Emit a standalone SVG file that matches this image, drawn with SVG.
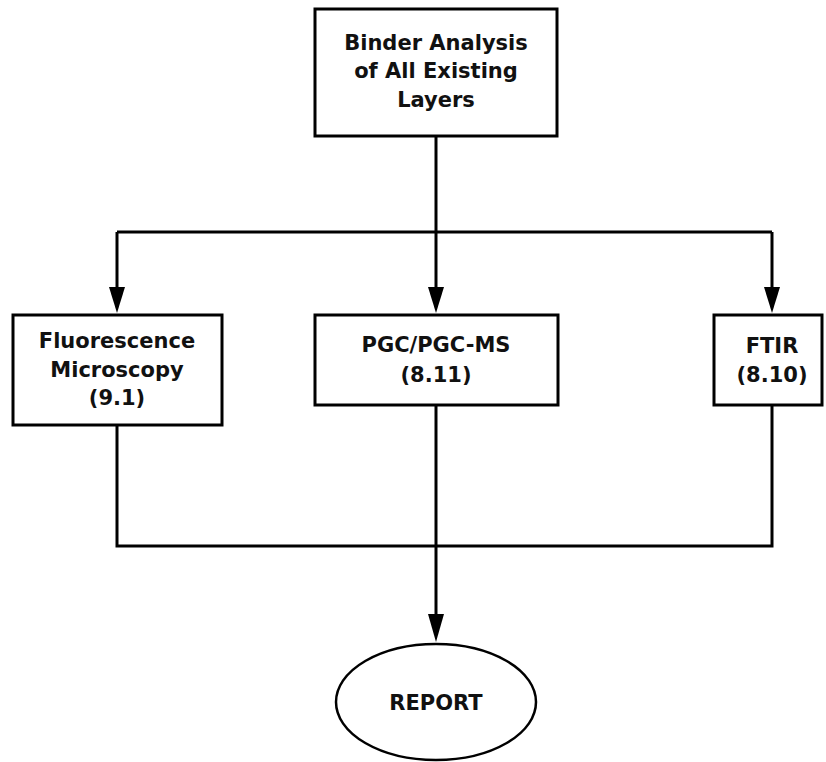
<svg xmlns="http://www.w3.org/2000/svg" width="826" height="762" viewBox="0 0 826 762">
<style>
.box{fill:#fff;stroke:#000;stroke-width:3}
.ln{fill:none;stroke:#000;stroke-width:3}
.t{font-family:"DejaVu Sans","Liberation Sans",sans-serif;font-weight:bold;font-size:21px;text-anchor:middle;fill:#111}
</style>
<g id="connectors">
<path class="ln" d="M436,136 V232"/>
<path class="ln" d="M117,232 H772"/>
<path class="ln" d="M117,232 V288"/>
<path class="ln" d="M436,232 V288"/>
<path class="ln" d="M772,232 V288"/>
<path d="M109,287 L125,287 L117,313 Z" fill="#000"/>
<path d="M428,287 L444,287 L436,313 Z" fill="#000"/>
<path d="M764,287 L780,287 L772,313 Z" fill="#000"/>
<path class="ln" d="M117,425 V546 H772 V405"/>
<path class="ln" d="M436,405 V615"/>
<path d="M428,614 L444,614 L436,642 Z" fill="#000"/>
</g>
<g id="binder">
<rect class="box" x="315" y="9" width="242" height="127"/>
<text class="t" x="436" y="50">Binder Analysis</text>
<text class="t" x="436" y="78">of All Existing</text>
<text class="t" x="436" y="107">Layers</text>
</g>
<g id="fluorescence">
<rect class="box" x="13" y="315" width="209" height="110"/>
<text class="t" x="117" y="348">Fluorescence</text>
<text class="t" x="117" y="377">Microscopy</text>
<text class="t" x="117" y="405">(9.1)</text>
</g>
<g id="pgc">
<rect class="box" x="315" y="315" width="243" height="90"/>
<text class="t" x="436" y="352">PGC/PGC-MS</text>
<text class="t" x="436" y="382">(8.11)</text>
</g>
<g id="ftir">
<rect class="box" x="714" y="315" width="108" height="90"/>
<text class="t" x="772" y="353">FTIR</text>
<text class="t" x="772" y="382">(8.10)</text>
</g>
<g id="report">
<ellipse cx="436" cy="702" rx="100" ry="58" fill="#fff" stroke="#000" stroke-width="2.5"/>
<text class="t" x="436" y="710">REPORT</text>
</g>
</svg>
